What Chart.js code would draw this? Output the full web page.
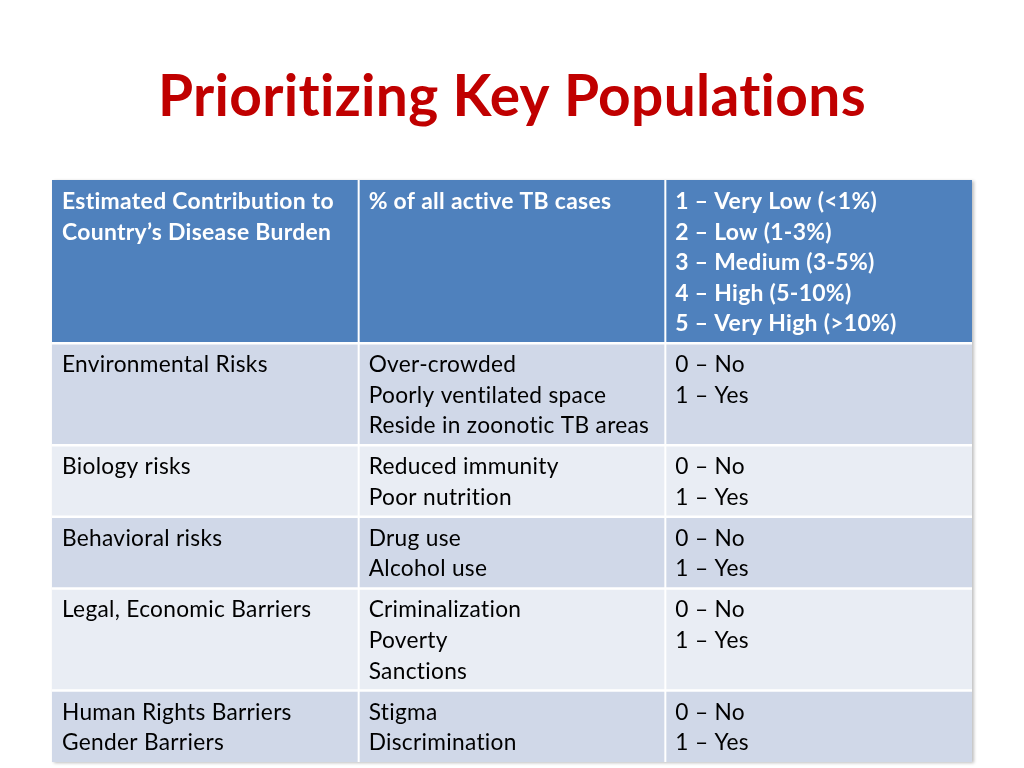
<!DOCTYPE html>
<html>
<head>
<meta charset="utf-8">
<script src="https://cdn.jsdelivr.net/npm/chart.js@4.4.1/dist/chart.umd.min.js"></script>
<style>
  html, body { margin: 0; padding: 0; background: #ffffff; }
  #wrap { width: 1024px; height: 768px; }
</style>
</head>
<body>
<div id="wrap"><canvas id="c" width="1024" height="768"></canvas></div>
<script>
// ---------------- data ----------------
const titleText = "Prioritizing Key Populations";
const headerCells = [
  ["Estimated Contribution to", "Country’s Disease Burden"],
  ["% of all active TB cases"],
  ["1 – Very Low (<1%)", "2 – Low (1-3%)", "3 – Medium (3-5%)", "4 – High (5-10%)", "5 – Very High (>10%)"]
];
const riskCategories = [
  ["Environmental Risks"],
  ["Biology risks"],
  ["Behavioral risks"],
  ["Legal, Economic Barriers"],
  ["Human Rights Barriers", "Gender Barriers"]
];
const riskFactors = [
  ["Over-crowded", "Poorly ventilated space", "Reside in zoonotic TB areas"],
  ["Reduced immunity", "Poor nutrition"],
  ["Drug use", "Alcohol use"],
  ["Criminalization", "Poverty", "Sanctions"],
  ["Stigma", "Discrimination"]
];
const scoreScales = [
  ["0 – No", "1 – Yes"],
  ["0 – No", "1 – Yes"],
  ["0 – No", "1 – Yes"],
  ["0 – No", "1 – Yes"],
  ["0 – No", "1 – Yes"]
];

// ---------------- styling ----------------
const FONT = "Lato, 'Open Sans', 'DejaVu Sans', sans-serif";
const HEADER_BG = "#4F81BD";
const ROW_BG = ["#D0D8E8", "#E9EDF4"];
const TITLE_COLOR = "#C00000";
const ROW_PAD = 0.34;       // extra height per row, in line units
const BASE_OFF = 0.95;      // first baseline offset from row top, line units
const LETTER_SP = "0.3px";  // non-zero spacing turns off "ti" ligatures

// build table rows (header + body)
const tableRows = [headerCells].concat(riskCategories.map((c, i) => [c, riskFactors[i], scoreScales[i]]));
const rowLines = tableRows.map(r => Math.max(...r.map(c => c.length)));
const rowTops = [];
let acc = 0;
rowLines.forEach(n => { rowTops.push(acc); acc += n + ROW_PAD; });
const totalUnits = acc;

// fit font sizes to reference text widths
const mctx = document.createElement("canvas").getContext("2d");
function fitSize(text, weight, target) {
  mctx.font = weight + " 100px " + FONT;
  const w100 = mctx.measureText(text).width;
  // account for letter spacing (approx, constant per char)
  const sp = parseFloat(LETTER_SP) * text.length;
  return 100 * (target - sp) / w100;
}
const titleSize = fitSize(titleText, "bold", 710);
const bodySize = fitSize("Reside in zoonotic TB areas", "normal", 281);
const headSize = fitSize("Estimated Contribution to", "bold", 273);

const tablePlugin = {
  id: "tablePlugin",
  beforeDraw(chart) {
    if ("letterSpacing" in chart.ctx) chart.ctx.letterSpacing = LETTER_SP;
  },
  beforeDatasetsDraw(chart) {
    const ctx = chart.ctx;
    const xs = chart.scales.x, ys = chart.scales.y;
    ctx.save();
    // soft shadow behind the table
    ctx.save();
    ctx.shadowColor = "rgba(0,0,0,0.25)";
    ctx.shadowBlur = 3;
    ctx.shadowOffsetX = 2;
    ctx.shadowOffsetY = 1;
    ctx.fillStyle = ROW_BG[1];
    ctx.fillRect(xs.getPixelForValue(0), ys.getPixelForValue(0),
      xs.getPixelForValue(3) - xs.getPixelForValue(0), ys.getPixelForValue(totalUnits) - ys.getPixelForValue(0));
    ctx.restore();
    // cells
    tableRows.forEach((row, r) => {
      const y0 = ys.getPixelForValue(rowTops[r]);
      const y1 = ys.getPixelForValue(rowTops[r] + rowLines[r] + ROW_PAD);
      row.forEach((cell, c) => {
        const x0 = xs.getPixelForValue(c);
        const x1 = xs.getPixelForValue(c + 1);
        ctx.fillStyle = r === 0 ? HEADER_BG : ROW_BG[(r - 1) % 2];
        ctx.fillRect(x0, y0, x1 - x0, y1 - y0);
      });
    });
    // white grid lines
    ctx.strokeStyle = "#ffffff";
    ctx.lineWidth = 2.5;
    for (let r = 1; r < tableRows.length; r++) {
      const y = ys.getPixelForValue(rowTops[r]);
      ctx.beginPath(); ctx.moveTo(xs.getPixelForValue(0), y); ctx.lineTo(xs.getPixelForValue(3), y); ctx.stroke();
    }
    ctx.lineWidth = 2;
    for (let c = 1; c < 3; c++) {
      const x = xs.getPixelForValue(c);
      ctx.beginPath(); ctx.moveTo(x, ys.getPixelForValue(0)); ctx.lineTo(x, ys.getPixelForValue(totalUnits)); ctx.stroke();
    }
    // text
    ctx.textBaseline = "alphabetic";
    ctx.textAlign = "left";
    tableRows.forEach((row, r) => {
      row.forEach((cell, c) => {
        const x = xs.getPixelForValue(c) + 10;
        ctx.font = (r === 0 ? "bold " + headSize.toFixed(2) : "normal " + bodySize.toFixed(2)) + "px " + FONT;
        ctx.fillStyle = r === 0 ? "#ffffff" : "#000000";
        cell.forEach((line, i) => {
          ctx.fillText(line, x, ys.getPixelForValue(rowTops[r] + BASE_OFF + i));
        });
      });
    });
    ctx.restore();
  }
};

new Chart(document.getElementById("c"), {
  type: "scatter",
  data: { datasets: [] },
  options: {
    responsive: false,
    animation: false,
    layout: { padding: { left: 52, right: 52, top: 0, bottom: 6 } },
    plugins: {
      legend: { display: false },
      tooltip: { enabled: false },
      title: {
        display: true,
        text: titleText,
        color: TITLE_COLOR,
        font: { family: FONT, size: titleSize, weight: "bold", lineHeight: 1.2 },
        padding: { top: 98 - titleSize * 0.6, bottom: 180 - 98 - titleSize * 0.6 }
      }
    },
    scales: {
      x: { type: "linear", min: 0, max: 3, display: false },
      y: { type: "linear", min: 0, max: totalUnits, reverse: true, display: false }
    }
  },
  plugins: [tablePlugin]
});
</script>
</body>
</html>
